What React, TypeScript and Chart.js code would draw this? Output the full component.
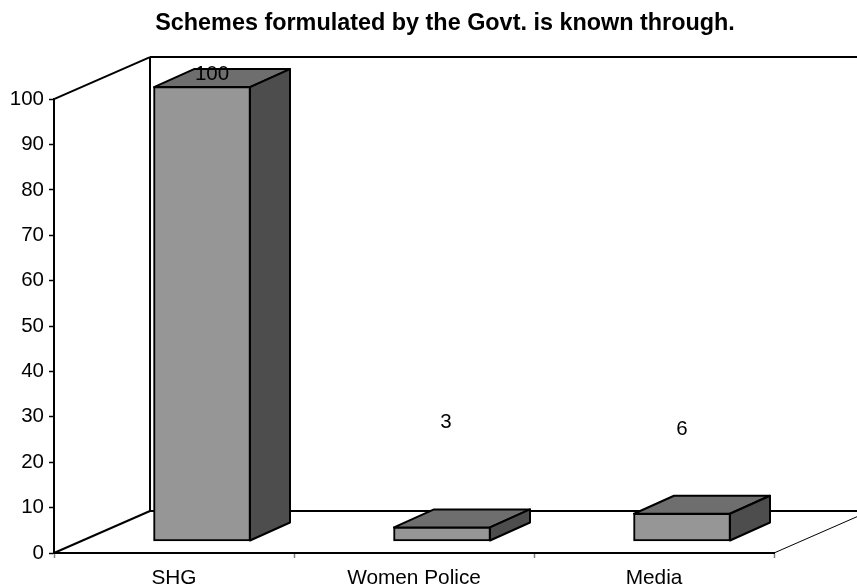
import React, { useEffect, useRef } from "react";
import { Chart, registerables } from "chart.js";

Chart.register(...registerables);

const categories = ["SHG", "Women Police", "Media"];
const values = [100, 3, 6];
const yTicksStep = 10;
const yMax = 100;
const chartTitle = "Schemes formulated by the Govt. is known through.";

const FONT = "'Liberation Sans', Arial, sans-serif";
const frameDepth = { x: 96, y: -42 };
const barLift = { x: 28, y: -12 };
const barDepth = { x: 40, y: -18 };
const labelNudges = [
  { x: 10, y: -13 },
  { x: 4, y: -105 },
  { x: 0, y: -84 },
];

const polygon = (ctx: CanvasRenderingContext2D, pts: number[][], fill: string) => {
  ctx.beginPath();
  pts.forEach(([x, y], i) => (i ? ctx.lineTo(x, y) : ctx.moveTo(x, y)));
  ctx.closePath();
  ctx.fillStyle = fill;
  ctx.fill();
  ctx.stroke();
};

const line = (ctx: CanvasRenderingContext2D, x1: number, y1: number, x2: number, y2: number, w = 2) => {
  ctx.lineWidth = w;
  ctx.beginPath();
  ctx.moveTo(x1, y1);
  ctx.lineTo(x2, y2);
  ctx.stroke();
};

// Draws the box walls behind the bars, and shifts the bars' front faces onto the floor.
const boxPlugin = {
  id: "box3d",
  afterLayout(chart: any) {
    if (chart.titleBlock) {
      chart.titleBlock.left = 33;
      chart.titleBlock.right = 857;
    }
  },
  beforeDatasetsDraw(chart: any) {
    const { ctx, scales } = chart;
    const l = scales.x.left;
    const r = scales.x.right;
    const top = scales.y.getPixelForValue(yMax);
    const bottom = scales.y.getPixelForValue(0);
    const bx = l + frameDepth.x;
    const ty = top + frameDepth.y;
    const by = bottom + frameDepth.y;
    ctx.save();
    ctx.strokeStyle = "#000";
    line(ctx, l, top, bx, ty);
    line(ctx, l, bottom, bx, by);
    line(ctx, bx, ty, bx, by);
    line(ctx, bx, ty, r + frameDepth.x, ty);
    line(ctx, bx, by, r + frameDepth.x, by);
    line(ctx, r, bottom, r + frameDepth.x, by, 1);
    ctx.restore();
    ctx.save();
    ctx.translate(barLift.x, barLift.y);
  },
  afterDatasetsDraw(chart: any) {
    const { ctx } = chart;
    ctx.restore();
    const meta = chart.getDatasetMeta(0);
    ctx.save();
    ctx.strokeStyle = "#000";
    ctx.lineWidth = 2;
    ctx.lineJoin = "round";
    meta.data.forEach((bar: any, i: number) => {
      const x0 = bar.x - bar.width / 2 + barLift.x;
      const x1 = bar.x + bar.width / 2 + barLift.x;
      const yt = bar.y + barLift.y;
      const yb = bar.base + barLift.y;
      const dx = barDepth.x;
      const dy = barDepth.y;
      polygon(ctx, [[x0, yt], [x0 + dx, yt + dy], [x1 + dx, yt + dy], [x1, yt]], "#6e6e6e");
      polygon(ctx, [[x1, yt], [x1 + dx, yt + dy], [x1 + dx, yb + dy], [x1, yb]], "#4d4d4d");
      ctx.fillStyle = "#000";
      ctx.font = `20.5px ${FONT}`;
      ctx.textAlign = "center";
      ctx.textBaseline = "middle";
      ctx.fillText(String(values[i]), (x0 + x1) / 2 + labelNudges[i].x, yt + labelNudges[i].y);
    });
    ctx.restore();
  },
};

export default function App() {
  const ref = useRef<HTMLCanvasElement>(null);
  useEffect(() => {
    const chart = new Chart(ref.current!, {
      type: "bar",
      data: {
        labels: categories,
        datasets: [
          {
            data: values,
            backgroundColor: "#969696",
            borderColor: "#000",
            borderWidth: 2,
            borderSkipped: false,
            inflateAmount: 0.8,
            barPercentage: 0.4,
            categoryPercentage: 1,
            clip: false,
          },
        ],
      },
      plugins: [boxPlugin],
      options: {
        responsive: false,
        animation: false,
        layout: { padding: { left: 0, right: 83, top: 0, bottom: 0 } },
        plugins: {
          legend: { display: false },
          tooltip: { enabled: false },
          title: {
            display: true,
            text: chartTitle,
            color: "#000",
            font: { family: FONT, size: 23.4, weight: "bold" },
            padding: { top: 10, bottom: 61 },
          },
        },
        scales: {
          x: {
            offset: true,
            afterFit: (s: any) => {
              s.height = 35;
            },
            grid: { drawOnChartArea: false, offset: true, tickLength: 5, tickColor: "#808080", tickWidth: 1.5 },
            border: { color: "#000", width: 2 },
            ticks: { color: "#000", font: { family: FONT, size: 20.8 }, padding: 8, maxRotation: 0 },
          },
          y: {
            min: 0,
            max: yMax,
            afterFit: (s: any) => {
              s.width = 54;
            },
            grid: { drawOnChartArea: false, tickLength: 5, tickColor: "#000", tickWidth: 1.5 },
            border: { color: "#000", width: 2 },
            ticks: { stepSize: yTicksStep, color: "#000", font: { family: FONT, size: 20.5 }, padding: 5 },
          },
        },
      } as any,
    });
    return () => chart.destroy();
  }, []);
  return (
    <canvas
      ref={ref}
      width={857}
      height={588}
      style={{ position: "absolute", left: 0, top: 0, background: "#fff" }}
    />
  );
}
